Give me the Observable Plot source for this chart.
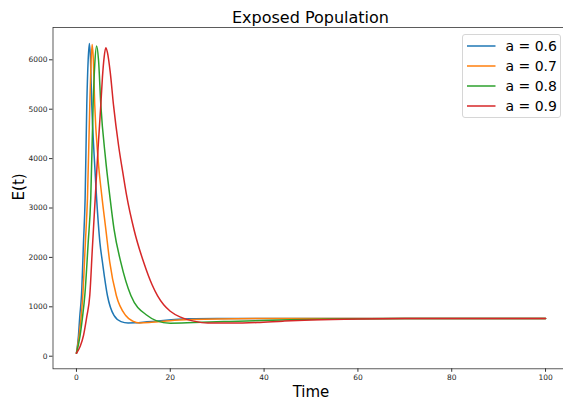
<!DOCTYPE html>
<html>
<head>
<meta charset="utf-8">
<script src="https://cdn.jsdelivr.net/npm/d3@7"></script>
<script src="https://cdn.jsdelivr.net/npm/@observablehq/plot@0.6"></script>
<style>
  html, body { margin: 0; padding: 0; background: #fff; overflow: hidden; }
  #wrap { position: relative; width: 563px; height: 403px; font-family: "DejaVu Sans", sans-serif; }
  #title { height: 25px; box-sizing: border-box; padding-top: 10px; margin-left: 52.5px; width: 516px;
           text-align: center; font-size: 16px; line-height: 16px; color: #000; white-space: nowrap; }
  #legend { position: absolute; left: 461.5px; top: 34px; width: 99px; height: 84px; box-sizing: border-box;
            border: 1px solid #d6d6d6; border-radius: 3px; background: rgba(255,255,255,0.85); }
  #legend svg { position: absolute; left: 0; top: 0; }
  .ltext { position: absolute; left: 43px; font-size: 14px; line-height: 16px; white-space: nowrap; color: #000; }
</style>
</head>
<body>
<div id="wrap">
  <div id="title">Exposed Population</div>
  <div id="chart"></div>
  <div id="legend"></div>
</div>
<script>
const seriesLabels = ["a = 0.6", "a = 0.7", "a = 0.8", "a = 0.9"];
const seriesColors = ["#1f77b4", "#ff7f0e", "#2ca02c", "#d62728"];

const time06 = [0, 0.43, 0.7, 1.07, 1.5, 1.85, 2.2, 2.5, 2.75, 3.0, 3.27, 3.75, 4.26, 5.0, 5.54, 6.6, 8.0, 9.5, 11.0, 12.5, 15, 18, 24, 30, 40, 60, 100];
const value06 = [60, 419, 800, 1229, 2300, 3200, 5081, 6000, 6330, 6000, 5081, 4100, 3250, 2300, 1904, 1229, 824, 700, 672, 675, 695, 720, 756, 763, 765, 765, 765];

const time07 = [0, 0.57, 1.0, 1.35, 1.9, 2.35, 2.84, 3.1, 3.34, 3.6, 3.9, 4.6, 5.4, 6.25, 7.1, 8.5, 10.5, 12, 13.5, 16, 20, 25, 30, 40, 60, 100];
const value07 = [60, 419, 800, 1229, 2300, 3200, 5081, 5900, 6310, 6000, 5081, 4000, 3250, 2579, 1904, 1229, 824, 710, 672, 685, 720, 743, 755, 763, 765, 765];

const time08 = [0, 0.78, 1.3, 1.78, 2.5, 3.05, 3.55, 3.9, 4.3, 4.7, 5.2, 6.2, 7.1, 8.0, 9.45, 11.6, 15.1, 17, 20, 25, 31.4, 38, 45.6, 55, 70, 100];
const value08 = [60, 419, 800, 1229, 2300, 3200, 5081, 5900, 6280, 6000, 5081, 4000, 3250, 2579, 1904, 1229, 824, 720, 668, 680, 700, 720, 740, 755, 763, 765];

const time09 = [0, 0.8, 1.5, 2.2, 2.84, 3.4, 4.0, 4.6, 5.2, 5.54, 5.9, 6.25, 6.6, 7.2, 7.9, 9.0, 10.0, 10.7, 12.3, 14.4, 16.1, 17.3, 18.6, 20, 22.2, 25, 28, 33, 38.5, 44, 50, 60, 75, 100];
const value09 = [60, 200, 419, 800, 1229, 2200, 3200, 4200, 5100, 5650, 6050, 6245, 6150, 5750, 5081, 4250, 3650, 3250, 2550, 1880, 1450, 1220, 1040, 910, 790, 710, 670, 670, 682, 710, 735, 755, 763, 765];

const xTicks = [0, 20, 40, 60, 80, 100];
const yTicks = [0, 1000, 2000, 3000, 4000, 5000, 6000];

const times = [time06, time07, time08, time09];
const values = [value06, value07, value08, value09];
const rows = [];
seriesLabels.forEach((s, i) => {
  times[i].forEach((t, j) => rows.push({series: s, t, e: values[i][j]}));
});

const fontFamily = "DejaVu Sans, sans-serif";
const chart = Plot.plot({
  width: 563,
  height: 378,
  marginLeft: 52.5,
  marginRight: -5.5,
  marginTop: 2,
  marginBottom: 34.7,
  style: {fontFamily, background: "transparent", overflow: "hidden"},
  x: {domain: [-5, 105]},
  y: {domain: [-255, 6654]},
  color: {domain: seriesLabels, range: seriesColors},
  marks: [
    Plot.frame({stroke: "#333", strokeWidth: 0.8}),
    Plot.axisX({ticks: xTicks, tickSize: 3.5, tickPadding: 2.5, fontSize: 7.5, tickFormat: d => String(d),
                label: null, stroke: "#333", color: "#262626"}),
    Plot.axisY({ticks: yTicks, tickSize: 3.5, tickPadding: 2, fontSize: 7.5, tickFormat: d => String(d),
                label: null, stroke: "#333", color: "#262626"}),
    Plot.line(rows, {x: "t", y: "e", z: "series", stroke: "series", strokeWidth: 1.5, curve: "monotone-x"}),
    Plot.text(["Time"], {x: 50, frameAnchor: "bottom", dy: 23.6, fontSize: 15, fill: "#000", lineAnchor: "middle"}),
    Plot.text(["E(t)"], {frameAnchor: "left", dx: -34, dy: 2.3, rotate: -90, fontSize: 15, fill: "#000", lineAnchor: "middle"})
  ]
});
document.getElementById("chart").appendChild(chart);

const legend = document.getElementById("legend");
const rowY = [11, 31, 51, 71];
const ns = "http://www.w3.org/2000/svg";
const lsvg = document.createElementNS(ns, "svg");
lsvg.setAttribute("width", "97");
lsvg.setAttribute("height", "82");
seriesLabels.forEach((s, i) => {
  const ln = document.createElementNS(ns, "line");
  ln.setAttribute("x1", "4"); ln.setAttribute("x2", "32.5");
  ln.setAttribute("y1", rowY[i]); ln.setAttribute("y2", rowY[i]);
  ln.setAttribute("stroke", seriesColors[i]); ln.setAttribute("stroke-width", "1.5");
  lsvg.appendChild(ln);
  const tx = document.createElement("div");
  tx.className = "ltext";
  tx.style.top = (rowY[i] - 8) + "px";
  tx.textContent = s;
  legend.appendChild(tx);
});
legend.appendChild(lsvg);
</script>
</body>
</html>
